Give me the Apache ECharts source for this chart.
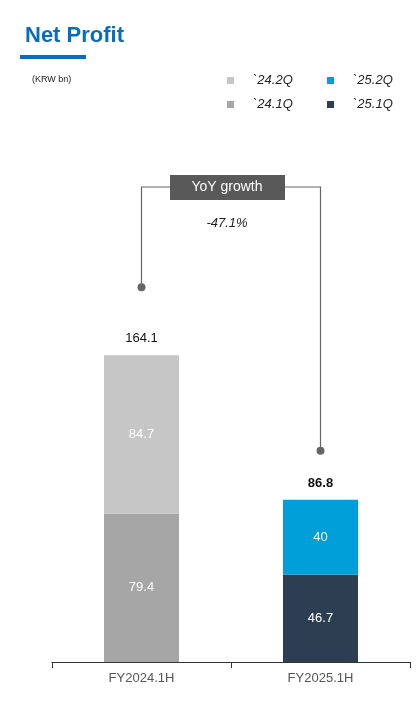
<!DOCTYPE html>
<html><head><meta charset="utf-8">
<script src="https://cdn.jsdelivr.net/npm/echarts@6/dist/echarts.min.js"></script>
<style>html,body{margin:0;padding:0;background:#fff}#c{width:420px;height:702px}</style>
</head><body><div id="c"></div>
<script>
var categories = ['FY2024.1H', 'FY2025.1H'];
var q241 = [79.4, '-'];
var q242 = [84.7, '-'];
var q251 = ['-', 46.7];
var q252 = ['-', 40.0];
var totals = [164.1, 86.8];
var yoyText = '-47.1%';

var chart = echarts.init(document.getElementById('c'));
var font = 'Arial, "Liberation Sans", sans-serif';
function seg(name, data, color) {
  return {
    name: name, type: 'bar', stack: 'np', data: data, barWidth: 75,
    itemStyle: { color: color },
    label: { show: true, position: 'inside', color: '#fff', fontSize: 13, fontFamily: font }
  };
}
var legendText = { fontStyle: 'italic', fontSize: 13, color: '#222', fontFamily: font, padding: [0, 0, 0, 14] };
chart.setOption({
  animation: false,
  title: [
    { text: 'Net Profit', left: 20, top: 20, textStyle: { color: '#0a6cbf', fontSize: 22, fontWeight: 'bold', fontFamily: font } },
    { text: '(KRW bn)', left: 27, top: 70, textStyle: { color: '#222', fontSize: 9, fontWeight: 'normal', fontFamily: font } }
  ],
  legend: [
    { data: ['`24.2Q', '`24.1Q'], orient: 'vertical', left: 222, top: 69, itemWidth: 7, itemHeight: 7, itemGap: 11, icon: 'rect', textStyle: legendText },
    { data: ['`25.2Q', '`25.1Q'], orient: 'vertical', left: 322, top: 69, itemWidth: 7, itemHeight: 7, itemGap: 11, icon: 'rect', textStyle: legendText }
  ],
  grid: { left: 52, right: 10, top: 288, bottom: 40 },
  xAxis: {
    type: 'category', data: categories,
    axisLine: { lineStyle: { color: '#333' } },
    axisTick: { show: true, length: 6, lineStyle: { color: '#333' } },
    axisLabel: { color: '#555', fontSize: 13, fontFamily: font, margin: 10 }
  },
  yAxis: { type: 'value', min: 0, max: 200, show: false, splitLine: { show: false } },
  series: [
    seg('`24.1Q', q241, '#a6a6a6'),
    seg('`24.2Q', q242, '#c6c6c6'),
    seg('`25.1Q', q251, '#2e3e52'),
    seg('`25.2Q', q252, '#009fd9'),
    {
      name: 'total', type: 'bar', stack: 'np', data: [0, 0], barWidth: 75,
      itemStyle: { color: 'transparent' },
      label: {
        show: true, position: 'top', distance: 10, fontSize: 13, color: '#111', fontFamily: font,
        formatter: function (p) { return p.dataIndex === 1 ? '{b|' + totals[1].toFixed(1) + '}' : totals[0].toFixed(1); },
        rich: { b: { fontWeight: 'bold', fontSize: 13, color: '#111', fontFamily: font } }
      }
    }
  ]
});

var p1 = chart.convertToPixel({ gridIndex: 0 }, [0, totals[0]]);
var p2 = chart.convertToPixel({ gridIndex: 0 }, [1, totals[1]]);
var d1y = p1[1] - 68, d2y = p2[1] - 49, topY = 187;
var lineStyle = { stroke: '#666', lineWidth: 1.2 };
chart.setOption({
  graphic: [
    { type: 'polyline', shape: { points: [[p1[0], d1y], [p1[0], topY], [170, topY]] }, style: lineStyle },
    { type: 'polyline', shape: { points: [[p2[0], d2y], [p2[0], topY], [285, topY]] }, style: lineStyle },
    { type: 'circle', shape: { cx: p1[0], cy: d1y, r: 4 }, style: { fill: '#666' } },
    { type: 'circle', shape: { cx: p2[0], cy: d2y, r: 4 }, style: { fill: '#666' } },
    { type: 'rect', shape: { x: 170, y: 175, width: 115, height: 25 }, style: { fill: '#595959' } },
    { type: 'text', x: 227, y: 187, style: { text: 'YoY growth', fill: '#fff', fontSize: 14, fontFamily: font, align: 'center', verticalAlign: 'middle' } },
    { type: 'text', x: 227, y: 223, style: { text: yoyText, fill: '#222', fontSize: 13, fontStyle: 'italic', fontFamily: font, align: 'center', verticalAlign: 'middle' } },
    { type: 'rect', shape: { x: 20, y: 55, width: 66, height: 4 }, style: { fill: '#0a6cbf' } }
  ]
});
</script></body></html>
